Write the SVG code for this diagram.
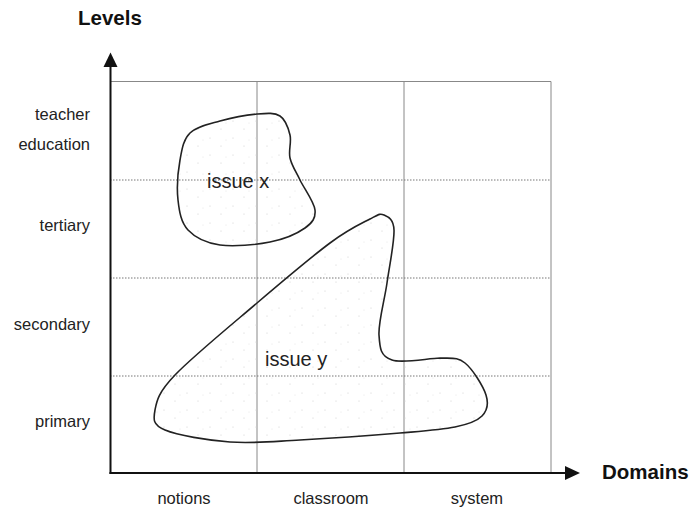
<svg xmlns="http://www.w3.org/2000/svg" width="689" height="510" viewBox="0 0 689 510">
<style>
.lbl{font-family:"Liberation Sans",Arial,sans-serif;font-size:16.5px;fill:#222}
.ttl{font-family:"Liberation Sans",Arial,sans-serif;font-size:20.5px;font-weight:bold;fill:#111}
.iss{font-family:"Liberation Sans",Arial,sans-serif;font-size:20px;fill:#222}
.grid{stroke:#888;stroke-width:1;fill:none}
.dot{stroke:#777;stroke-width:1;stroke-dasharray:1.5 1.5;fill:none}
.axis{stroke:#111;stroke-width:2;fill:none}
.blob{stroke:#222;stroke-width:1.6;fill:url(#stip)}
</style>
<defs>
<pattern id="stip" width="23" height="17" patternUnits="userSpaceOnUse">
<circle cx="3" cy="2" r="0.6" fill="#ccc"/>
<circle cx="14" cy="10" r="0.6" fill="#ccc"/>
<circle cx="19" cy="4" r="0.5" fill="#ddd"/>
</pattern>
</defs>
<rect width="689" height="510" fill="#fff"/>
<g id="grid">
<line class="grid" x1="110" y1="81.5" x2="551" y2="81.5"/>
<line class="grid" x1="551" y1="81.5" x2="551" y2="473"/>
<line class="grid" x1="257" y1="81.5" x2="257" y2="473" stroke="#666"/>
<line class="grid" x1="404" y1="81.5" x2="404" y2="473"/>
<line class="dot" x1="110" y1="180" x2="551" y2="180"/>
<line class="dot" x1="110" y1="278" x2="551" y2="278"/>
<line class="dot" x1="110" y1="376" x2="551" y2="376"/>
</g>
<g id="issue-x">
<path class="blob" d="M257,114 C267,113.2 274.5,112.5 280,116 C285.5,119.5 288.3,128 290,135 C291.7,142 288.3,150.5 290,158 C291.7,165.5 295.8,171.3 300,180 C304.2,188.7 314.2,202 315,210 C315.8,218 312.5,222.7 305,228 C297.5,233.3 284.2,239.2 270,242 C255.8,244.8 233.7,247 220,245 C206.3,243 195,237.5 188,230 C181,222.5 179.3,211.7 178,200 C176.7,188.3 178,171.2 180,160 C182,148.8 183.3,139.5 190,133 C196.7,126.5 208.8,124.2 220,121 C231.2,117.8 247,114.8 257,114 Z"/>
<text class="iss" x="207" y="188">issue x</text>
</g>
<g id="issue-y">
<path class="blob" d="M384,215 C388,216.8 393.5,218.7 394,230 C394.5,241.3 389.5,265.5 387,283 C384.5,300.5 378.2,322.2 379,335 C379.8,347.8 380.2,356.2 392,360 C402.2,363.8 428.3,358.2 440,358 C452.2,358.5 457.3,356.8 465,363 C472.7,369.2 483.2,386.2 486,395 C488.8,403.8 487.2,410.7 482,416 C476.8,421.3 468.7,424.2 455,427 C441.3,429.8 425.8,430.8 400,433 C374.2,435.2 328.3,438.5 300,440 C271.7,441.5 252.5,443.7 230,442 C207.5,440.3 177.5,435.3 165,430 C152.5,424.7 153.3,419.2 155,410 C156.7,400.8 158,392.8 175,375 C192,357.2 231.2,325 257,303 C282.8,281 311.2,257 330,243 C348.8,229 361,223.7 370,219 C379,214.3 380,213.2 384,215 Z"/>
<text class="iss" x="265" y="366">issue y</text>
</g>
<g id="axes">
<line class="axis" x1="110.5" y1="474" x2="110.5" y2="66"/>
<polygon points="110.5,52.5 103.5,67 117.5,67" fill="#111"/>
<line class="axis" x1="109.5" y1="473" x2="566" y2="473"/>
<polygon points="580,473 565,466 565,480" fill="#111"/>
</g>
<g id="axis-titles">
<text class="ttl" x="78" y="25">Levels</text>
<text class="ttl" x="602" y="479">Domains</text>
</g>
<g id="level-labels">
<text class="lbl" x="90" y="120" text-anchor="end">teacher</text>
<text class="lbl" x="90" y="150" text-anchor="end">education</text>
<text class="lbl" x="90" y="231" text-anchor="end">tertiary</text>
<text class="lbl" x="90" y="330" text-anchor="end">secondary</text>
<text class="lbl" x="90" y="427" text-anchor="end">primary</text>
</g>
<g id="domain-labels">
<text class="lbl" x="184" y="504" text-anchor="middle">notions</text>
<text class="lbl" x="331" y="504" text-anchor="middle">classroom</text>
<text class="lbl" x="477" y="504" text-anchor="middle">system</text>
</g>
</svg>
